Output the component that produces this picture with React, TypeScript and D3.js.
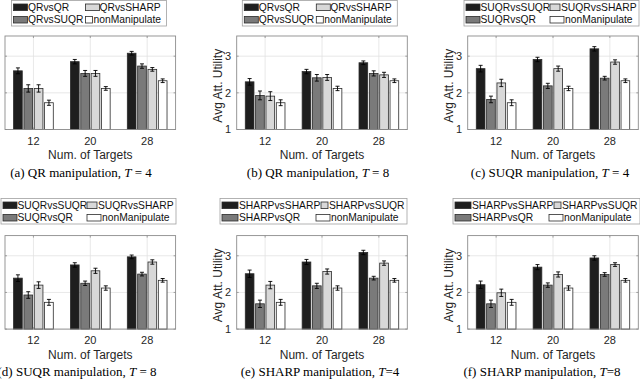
import React from 'react';
import * as d3 from 'd3';

// ---------- data ----------
const categories = ['12', '20', '28'];
const yTicks = [1, 2, 3];
const seriesColors = ['#1e1e1e', '#7a7a7a', '#d8d8d8', '#ffffff'];

const labelsQR = ['QRvsQR', 'QRvsSUQR', 'QRvsSHARP', 'nonManipulate'];
const labelsSUQR = ['SUQRvsSUQR', 'SUQRvsQR', 'SUQRvsSHARP', 'nonManipulate'];
const labelsSHARP = ['SHARPvsSHARP', 'SHARPvsQR', 'SHARPvsSUQR', 'nonManipulate'];

const valuesA = [[2.6, 2.85, 3.08], [2.12, 2.53, 2.73], [2.12, 2.53, 2.64], [1.73, 2.12, 2.33]];
const valuesB = [[2.3, 2.58, 2.82], [1.93, 2.41, 2.53], [1.91, 2.42, 2.49], [1.73, 2.12, 2.33]];
const valuesC = [[2.66, 2.91, 3.2], [1.82, 2.19, 2.4], [2.27, 2.66, 2.84], [1.73, 2.12, 2.33]];
const valuesD = [[2.39, 2.75, 2.97], [1.93, 2.25, 2.5], [2.2, 2.59, 2.83], [1.73, 2.12, 2.33]];
const valuesE = [[2.51, 2.83, 3.09], [1.69, 2.18, 2.39], [2.2, 2.57, 2.8], [1.73, 2.12, 2.33]];
const valuesF = [[2.21, 2.69, 2.94], [1.69, 2.2, 2.49], [1.99, 2.49, 2.76], [1.73, 2.12, 2.33]];

const errorsA = [[0.08, 0.06, 0.05], [0.1, 0.08, 0.06], [0.1, 0.08, 0.05], [0.07, 0.05, 0.05]];
const errorsB = [[0.09, 0.06, 0.05], [0.12, 0.09, 0.07], [0.12, 0.08, 0.07], [0.08, 0.06, 0.05]];
const errorsC = [[0.09, 0.06, 0.06], [0.09, 0.07, 0.05], [0.1, 0.07, 0.06], [0.08, 0.06, 0.05]];
const errorsD = [[0.09, 0.06, 0.05], [0.09, 0.06, 0.05], [0.09, 0.07, 0.06], [0.08, 0.06, 0.05]];
const errorsE = [[0.1, 0.07, 0.06], [0.1, 0.07, 0.05], [0.1, 0.07, 0.06], [0.08, 0.06, 0.05]];
const errorsF = [[0.1, 0.07, 0.06], [0.1, 0.06, 0.05], [0.1, 0.07, 0.05], [0.08, 0.06, 0.05]];

const captionPrefix = ['(a) QR manipulation, ', '(b) QR manipulation, ', '(c) SUQR manipulation, ', '(d) SUQR manipulation, ', '(e) SHARP manipulation, ', '(f) SHARP manipulation, '];
const captionSuffix = [' = 4', ' = 8', ' = 4', ' = 8', '=4', '=8'];

// ---------- layout ----------
const SANS = 'Liberation Sans, Arial, Helvetica, sans-serif';
const SERIF = 'Liberation Serif, Times New Roman, serif';

type LegendItem = { sx: number; sw: number; tx: number; row: number };
const legendQR = { w: 155, items: [{ sx: 2, sw: 14, tx: 16.5, row: 0 }, { sx: 2, sw: 14, tx: 16.5, row: 1 }, { sx: 74, sw: 14, tx: 88, row: 0 }, { sx: 74, sw: 7, tx: 82, row: 1 }] as LegendItem[] };
const legendSUQR = { w: 175, items: [{ sx: 2, sw: 14, tx: 16.5, row: 0 }, { sx: 2, sw: 14, tx: 16.5, row: 1 }, { sx: 86, sw: 10, tx: 97, row: 0 }, { sx: 86, sw: 14, tx: 101, row: 1 }] as LegendItem[] };
const legendSHARP = { w: 187, items: [{ sx: 2, sw: 16, tx: 19, row: 0 }, { sx: 2, sw: 16, tx: 19, row: 1 }, { sx: 101, sw: 7, tx: 109, row: 0 }, { sx: 96, sw: 14, tx: 111, row: 1 }] as LegendItem[] };

const panels = [
  { values: valuesA, errors: errorsA, labels: labelsQR, legend: legendQR, px: 5, row: 0, lx: 11.5, cx: 81 },
  { values: valuesB, errors: errorsB, labels: labelsQR, legend: legendQR, px: 236.7, row: 0, lx: 242.3, cx: 318 },
  { values: valuesC, errors: errorsC, labels: labelsSUQR, legend: legendSUQR, px: 467.7, row: 0, lx: 464, cx: 550 },
  { values: valuesD, errors: errorsD, labels: labelsSUQR, legend: legendSUQR, px: 5, row: 1, lx: 1, cx: 77 },
  { values: valuesE, errors: errorsE, labels: labelsSHARP, legend: legendSHARP, px: 236.7, row: 1, lx: 220, cx: 320 },
  { values: valuesF, errors: errorsF, labels: labelsSHARP, legend: legendSHARP, px: 467.7, row: 1, lx: 453, cx: 542 },
];

const ROW_OFF = 199.6;
const PLOT_W = 170.6;
const PLOT_TOP = 36;
const PLOT_BOTTOM = 129.5;

function Panel({ p, idx }: { p: typeof panels[number]; idx: number }) {
  const oy = p.row * ROW_OFF;
  const left = p.px;
  const right = p.px + PLOT_W;
  const top = PLOT_TOP + oy;
  const bottom = PLOT_BOTTOM + oy;

  const x = d3.scaleLinear().domain([0.5, 3.5]).range([left, right]);
  const y = d3.scaleLinear().domain([1, 3.55]).range([bottom, top]);
  const unit = x(2) - x(1);
  const groupW = unit * Math.min(0.8, 4 / 5.5);
  const inner = d3.scaleBand<number>().domain([0, 1, 2, 3]).range([-groupW / 2, groupW / 2]).paddingInner(0.16).paddingOuter(0.08);

  const textColor = '#262626';
  const boxColor = '#8c8c8c';
  const gridColor = '#e2e2e2';

  const ly = p.row === 0 ? 0.5 : 198.5;
  const lh = 25.5;
  const rowC = [ly + 6.8, ly + 19.2];

  return (
    <g>
      {/* grid */}
      {categories.map((_, i) => (
        <line key={'gx' + i} x1={x(i + 1)} x2={x(i + 1)} y1={top} y2={bottom} stroke={gridColor} strokeWidth={0.8} />
      ))}
      {yTicks.map((t) => (
        <line key={'gy' + t} x1={left} x2={right} y1={y(t)} y2={y(t)} stroke={gridColor} strokeWidth={0.8} />
      ))}
      {/* bars */}
      {p.values.map((series, s) =>
        series.map((v, c) => {
          const bx = x(c + 1) + (inner(s) as number);
          return (
            <rect key={`b${s}-${c}`} x={bx} y={y(v)} width={inner.bandwidth()} height={y(1) - y(v)}
              fill={seriesColors[s]} stroke="#2b2b2b" strokeWidth={0.8} />
          );
        })
      )}
      {/* error bars */}
      {p.values.map((series, s) =>
        series.map((v, c) => {
          const cxm = x(c + 1) + (inner(s) as number) + inner.bandwidth() / 2;
          const e = p.errors[s][c];
          const cap = 2;
          return (
            <g key={`e${s}-${c}`} stroke="#000" strokeWidth={0.9}>
              <line x1={cxm} x2={cxm} y1={y(v - e)} y2={y(v + e)} />
              <line x1={cxm - cap} x2={cxm + cap} y1={y(v - e)} y2={y(v - e)} />
              <line x1={cxm - cap} x2={cxm + cap} y1={y(v + e)} y2={y(v + e)} />
            </g>
          );
        })
      )}
      {/* box */}
      <rect x={left} y={top} width={right - left} height={bottom - top} fill="none" stroke={boxColor} strokeWidth={0.9} />
      {/* ticks */}
      {yTicks.map((t) => (
        <g key={'ty' + t} stroke={boxColor} strokeWidth={0.8}>
          <line x1={left} x2={left + 2} y1={y(t)} y2={y(t)} />
          <line x1={right} x2={right - 2} y1={y(t)} y2={y(t)} />
        </g>
      ))}
      {categories.map((_, i) => (
        <g key={'tx' + i} stroke={boxColor} strokeWidth={0.8}>
          <line x1={x(i + 1)} x2={x(i + 1)} y1={bottom} y2={bottom - 2} />
          <line x1={x(i + 1)} x2={x(i + 1)} y1={top} y2={top + 2} />
        </g>
      ))}
      {/* tick labels */}
      {yTicks.map((t) => (
        <text key={'yl' + t} x={left - 5.5} y={y(t) + 3.9} textAnchor="end" fontFamily={SANS} fontSize={11} fill={textColor}>{t}</text>
      ))}
      {categories.map((c, i) => (
        <text key={'xl' + i} x={x(i + 1)} y={bottom + 15} textAnchor="middle" fontFamily={SANS} fontSize={11} fill={textColor}>{c}</text>
      ))}
      <text x={(left + right) / 2} y={bottom + 29.5} textAnchor="middle" fontFamily={SANS} fontSize={12} fill={textColor}>Num. of Targets</text>
      <text transform={`translate(${left - 14.5},${(top + bottom) / 2 + 3}) rotate(-90)`} textAnchor="middle" fontFamily={SANS} fontSize={12} fill={textColor}>Avg Att. Utility</text>
      {/* legend */}
      <rect x={p.lx} y={ly} width={p.legend.w} height={lh} fill="#fff" stroke="#a0a0a0" strokeWidth={0.8} />
      {p.legend.items.map((it, s) => (
        <g key={'lg' + s}>
          <rect x={p.lx + it.sx} y={rowC[it.row] - 3.3} width={it.sw} height={6.6} fill={seriesColors[s]} stroke="#2b2b2b" strokeWidth={0.8} />
          <text x={p.lx + it.tx} y={rowC[it.row] + 3.7} fontFamily={SANS} fontSize={10.3} fill="#111">{p.labels[s]}</text>
        </g>
      ))}
      {/* caption */}
      <text x={p.cx} y={176.5 + oy} textAnchor="middle" fontFamily={SERIF} fontSize={13} fill="#000">
        {captionPrefix[idx]}<tspan fontStyle="italic">T</tspan>{captionSuffix[idx]}
      </text>
    </g>
  );
}

export default function App() {
  return (
    <svg width={640} height={380} viewBox="0 0 640 380" style={{ position: 'absolute', left: 0, top: 0, background: '#fff' }}>
      <rect x={0} y={0} width={640} height={380} fill="#fff" />
      {panels.map((p, i) => (
        <Panel key={i} p={p} idx={i} />
      ))}
    </svg>
  );
}
